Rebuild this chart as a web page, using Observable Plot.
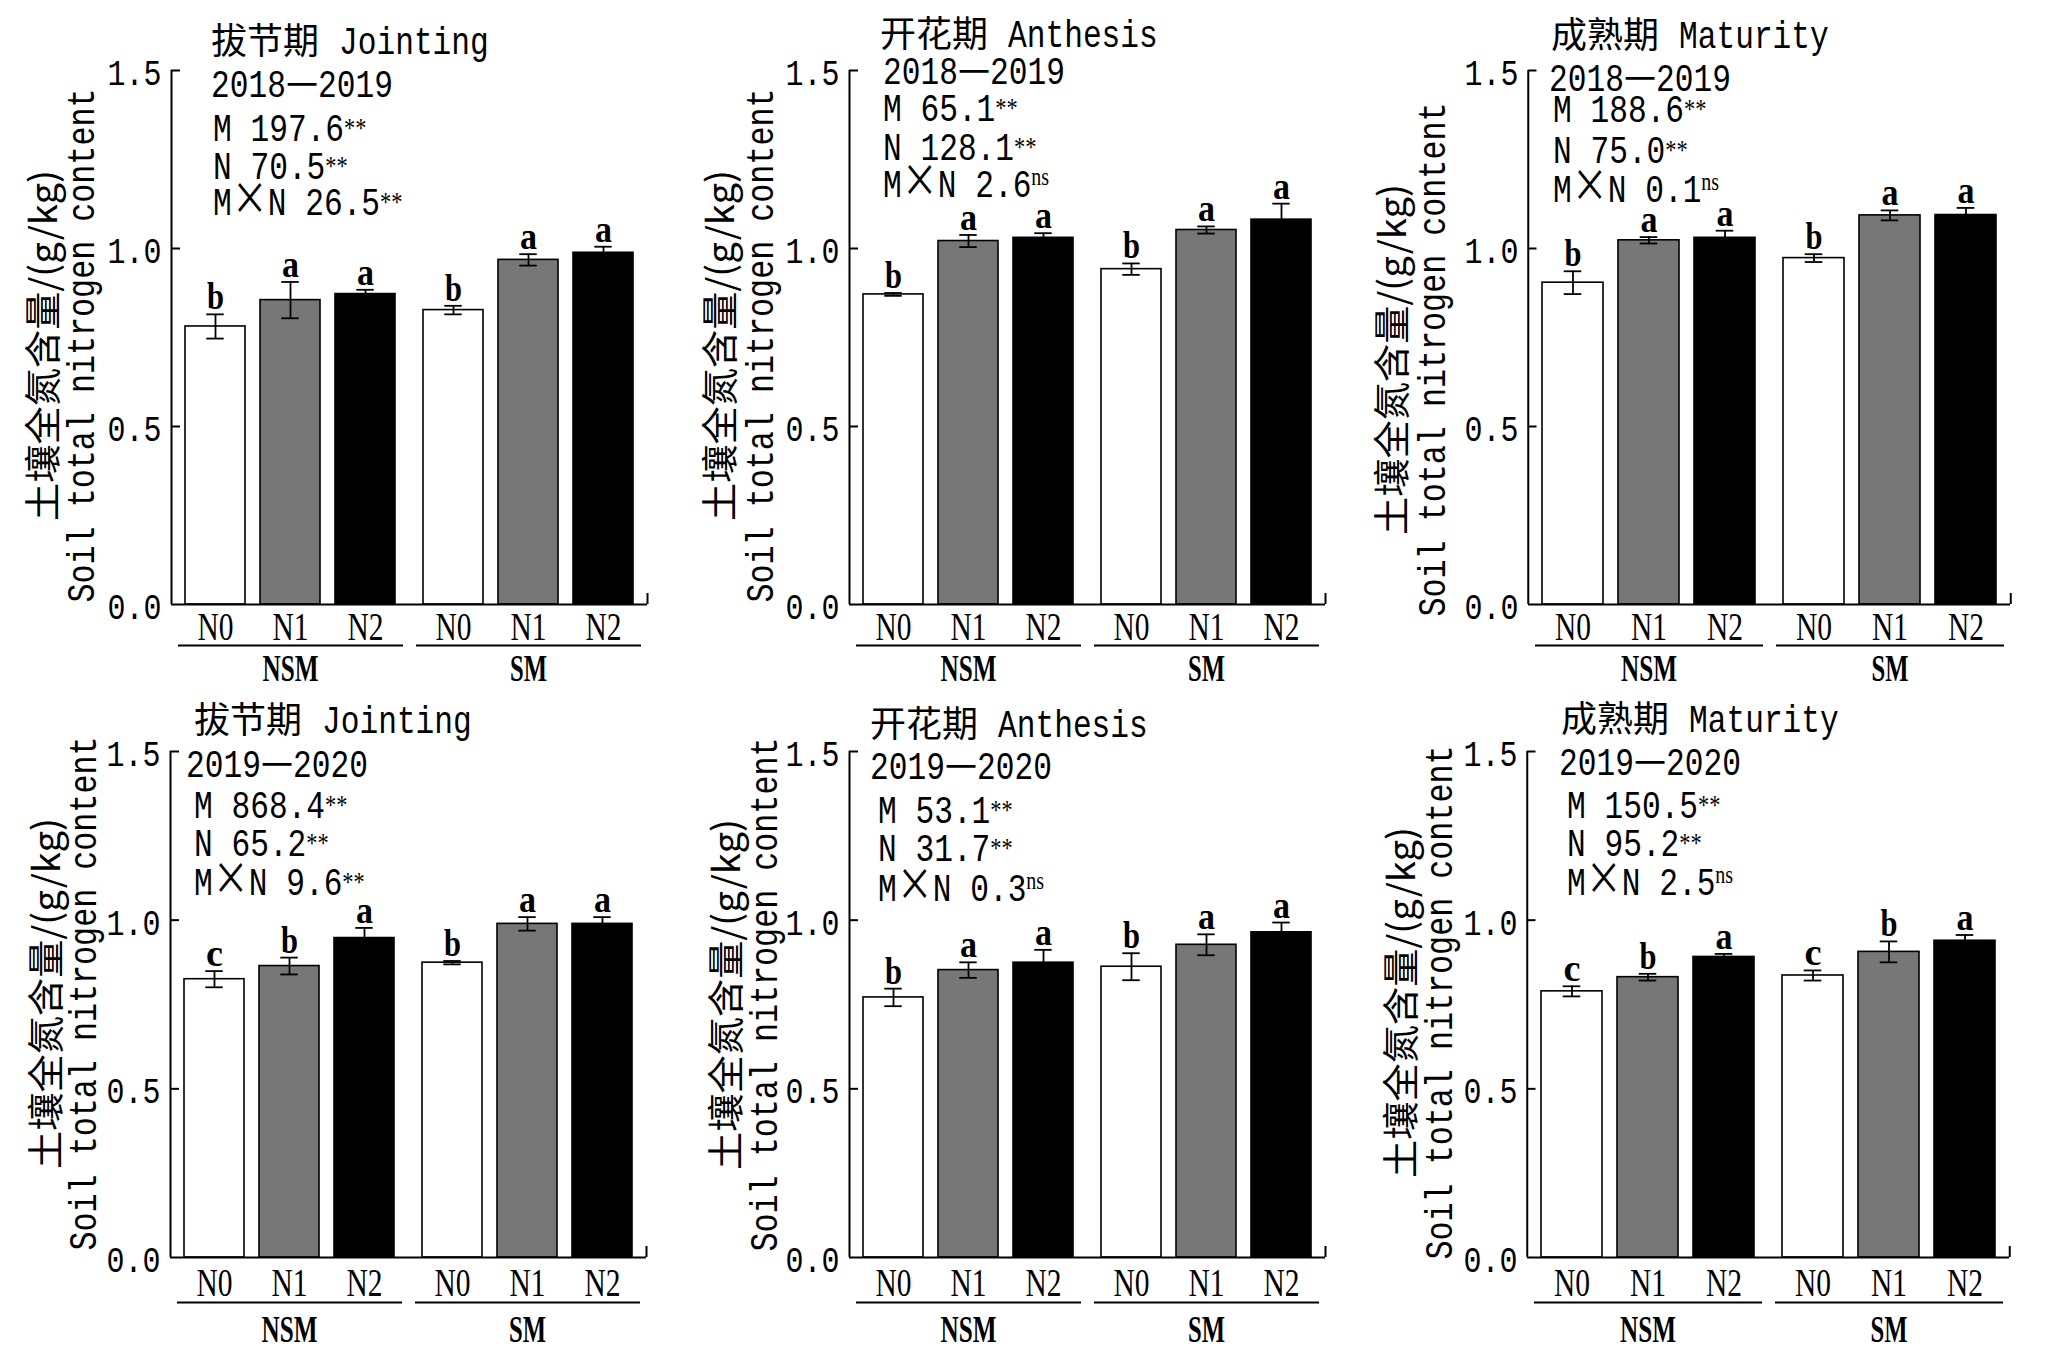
<!DOCTYPE html>
<html><head><meta charset="utf-8">
<script src="https://cdn.jsdelivr.net/npm/d3@7"></script>
<script src="https://cdn.jsdelivr.net/npm/@observablehq/plot@0.6"></script>
<style>
body{margin:0;background:#fff;}
#root{position:relative;width:2047px;height:1354px;background:#fff;overflow:hidden;}
.panel{position:absolute;}
.txt{position:absolute;white-space:pre;font-family:"Liberation Mono",monospace;font-size:39px;line-height:28px;color:#000;transform:scaleX(0.8);transform-origin:0 50%;}
.cjk{font-family:"Noto Sans CJK SC";font-size:45px;line-height:0;}
.sup{font-family:"Liberation Serif";font-size:28px;position:relative;line-height:0;}
.ttl{position:absolute;white-space:pre;font-family:"Liberation Mono",monospace;font-size:39px;line-height:28px;color:#000;}
.tcjk{font-family:"Noto Sans CJK SC";font-size:36px;line-height:0;}
.tlat{display:inline-block;margin-left:20px;line-height:28px;transform:scaleX(0.8);transform-origin:0 50%;}
</style></head><body><div id="root"></div>
<script>
// ---------- data ----------
const groups = ["NSM", "SM"];
const nLevels = ["N0", "N1", "N2"];
const stageCN = ["拔节期", "开花期", "成熟期", "拔节期", "开花期", "成熟期"];
const stageEN = ["Jointing", "Anthesis", "Maturity", "Jointing", "Anthesis", "Maturity"];
const seasons = ["2018—2019", "2018—2019", "2018—2019", "2019—2020", "2019—2020", "2019—2020"];
const fM = ["197.6", "65.1", "188.6", "868.4", "53.1", "150.5"];
const sigM = ["**", "**", "**", "**", "**", "**"];
const fN = ["70.5", "128.1", "75.0", "65.2", "31.7", "95.2"];
const sigN = ["**", "**", "**", "**", "**", "**"];
const fMN = ["26.5", "2.6", "0.1", "9.6", "0.3", "2.5"];
const sigMN = ["**", "ns", "ns", "**", "ns", "ns"];
const yTicks = [0, 0.5, 1.0, 1.5];
const yLabelCN = "土壤全氮含量/(g/kg)";
const yLabelEN = "Soil total nitrogen content";

// order of values: NSM N0, N1, N2, SM N0, N1, N2
const jointing1819 = [0.781, 0.855, 0.872, 0.827, 0.968, 0.988];
const jointing1819Err = [0.034, 0.051, 0.012, 0.012, 0.016, 0.017];
const jointing1819Sig = ["b", "a", "a", "b", "a", "a"];
const anthesis1819 = [0.871, 1.021, 1.030, 0.942, 1.052, 1.081];
const anthesis1819Err = [0.004, 0.017, 0.013, 0.016, 0.010, 0.045];
const anthesis1819Sig = ["b", "a", "a", "b", "a", "a"];
const maturity1819 = [0.904, 1.023, 1.030, 0.973, 1.093, 1.094];
const maturity1819Err = [0.032, 0.009, 0.020, 0.011, 0.014, 0.020];
const maturity1819Sig = ["b", "a", "a", "b", "a", "a"];
const jointing1920 = [0.825, 0.864, 0.947, 0.874, 0.989, 0.989];
const jointing1920Err = [0.024, 0.025, 0.030, 0.005, 0.020, 0.020];
const jointing1920Sig = ["c", "b", "a", "b", "a", "a"];
const anthesis1920 = [0.771, 0.852, 0.874, 0.862, 0.927, 0.964];
const anthesis1920Err = [0.026, 0.023, 0.038, 0.040, 0.031, 0.029];
const anthesis1920Sig = ["b", "a", "a", "b", "a", "a"];
const maturity1920 = [0.789, 0.831, 0.891, 0.836, 0.906, 0.939];
const maturity1920Err = [0.015, 0.010, 0.009, 0.015, 0.031, 0.017];
const maturity1920Sig = ["c", "b", "a", "c", "b", "a"];

const panelMeans = [jointing1819, anthesis1819, maturity1819, jointing1920, anthesis1920, maturity1920];
const panelErrs = [jointing1819Err, anthesis1819Err, maturity1819Err, jointing1920Err, anthesis1920Err, maturity1920Err];
const panelSigs = [jointing1819Sig, anthesis1819Sig, maturity1819Sig, jointing1920Sig, anthesis1920Sig, maturity1920Sig];

// ---------- layout (pixels) ----------
const axX = [171, 849, 1527, 170, 849, 1526];
const plotW = [476, 476, 483, 476, 476, 483];
const yTop = [70, 70, 70, 751, 751, 751];
const plotH = [534, 534, 534, 506, 506, 506];
const marginB = [80, 80, 80, 97, 97, 97];
const xLabPad = [7, 7, 7, 10, 10, 10];
const underDy = [41, 41, 41, 45, 45, 45];
const grpDy = [64, 64, 64, 72, 72, 72];
const cnDx = [-126, -127, -134, -122, -121, -124];
const enDx = [-90, -89, -96, -87, -85, -88];
const yLabDy = [8, 8, 22, -11, -10, -2];
const titlePos = [[211, 41], [880, 34], [1551, 35], [194, 720], [870, 724], [1561, 719]];
const yearsPos = [[211, 84.5], [883, 71], [1549, 78], [186, 764], [870, 766.5], [1559, 762.5]];
const statX = [213, 883, 1553, 194, 878, 1567];
const statY = [[128, 166, 202], [108, 147, 184], [109, 150, 189], [805, 843, 882], [810, 848.5, 888.5], [805, 843, 882]];

const mL = 170, mR = 15, mT = 70;
const root = document.getElementById("root");
const fmtTick = d => d.toFixed(1);

function addLine(cls, left, cy, html) {
  const d = document.createElement("div");
  d.className = cls;
  d.style.left = left + "px";
  d.style.top = (cy - 11.5) + "px";
  d.innerHTML = html;
  root.appendChild(d);
}
const sup = s => `<span class="sup" style="top:${s === "ns" ? -12 : -4}px;font-size:${s === "ns" ? 25 : 28}px">${s}</span>`;

for (let p = 0; p < 6; p++) {
  const W = plotW[p] / 2, H = plotH[p];
  const rows = panelMeans[p].map((v, i) => ({
    M: groups[Math.floor(i / 3)], N: nLevels[i % 3], v, e: panelErrs[p][i], s: panelSigs[p][i]
  }));
  const bw = W / (3 - 0.2 + 2 * 0.172) * 0.8;
  const capInset = (bw - 18) / 2;

  const chart = Plot.plot({
    width: mL + plotW[p] + mR,
    height: mT + H + marginB[p],
    marginLeft: mL, marginRight: mR, marginTop: mT, marginBottom: marginB[p],
    style: {background: "transparent", overflow: "visible"},
    fx: {domain: groups, padding: 0, axis: null},
    x: {domain: nLevels, paddingInner: 0.2, paddingOuter: 0.172, label: null},
    y: {domain: [0, 1.5], label: null},
    color: {domain: nLevels, range: ["#ffffff", "#777777", "#000000"]},
    marks: [
      Plot.barY(rows, {fx: "M", x: "N", y: "v", fill: "N", stroke: "#000", strokeWidth: 1.6}),
      Plot.ruleX(rows, {fx: "M", x: "N", y1: d => d.v - d.e, y2: d => d.v + d.e, stroke: "#000", strokeWidth: 1.8}),
      Plot.tickY(rows, {fx: "M", x: "N", y: d => d.v + d.e, insetLeft: capInset, insetRight: capInset, stroke: "#000", strokeWidth: 1.8}),
      Plot.tickY(rows, {fx: "M", x: "N", y: d => d.v - d.e, insetLeft: capInset, insetRight: capInset, stroke: "#000", strokeWidth: 1.8}),
      Plot.text(rows, {fx: "M", x: "N", y: d => d.v + d.e, text: "s", dy: -5, lineAnchor: "bottom",
        fontSize: 38, fontWeight: "bold", fontFamily: "Liberation Serif", fill: "#000"}),
      // axis frame
      Plot.ruleY([0], {stroke: "#000", strokeWidth: 2}),
      Plot.ruleX([0], {x: null, fx: () => "NSM", dx: -W / 2, stroke: "#000", strokeWidth: 2}),
      Plot.tickY(yTicks.filter(t => t > 0), {y: d => d, fx: () => "NSM", insetRight: W - 9, stroke: "#000", strokeWidth: 2}),
      Plot.ruleX([0], {x: null, fx: () => "SM", dx: W / 2, insetTop: H - 11, stroke: "#000", strokeWidth: 2}),
      Plot.axisY({ticks: yTicks, tickSize: 0, tickPadding: 10, tickFormat: fmtTick,
        fontSize: 36, fontFamily: "Liberation Mono", dy: 3, label: null}),
      Plot.axisX({tickSize: 0, tickPadding: xLabPad[p], fontSize: 40, fontFamily: "Liberation Serif", label: null}),
      // group underline and labels
      Plot.ruleY([0], {dy: underDy[p], insetLeft: 7, insetRight: 6, stroke: "#000", strokeWidth: 2}),
      Plot.text(groups, {fx: d => d, text: d => d, frameAnchor: "bottom", dy: grpDy[p], lineAnchor: "middle",
        fontSize: 38, fontWeight: "bold", fontFamily: "Liberation Serif", fill: "#000"}),
      // y label (two lines)
      Plot.text([yLabelCN], {fx: () => "NSM", text: d => d, frameAnchor: "left", rotate: -90,
        dx: cnDx[p], dy: yLabDy[p], textAnchor: "middle", lineAnchor: "middle",
        fontSize: 37, fontFamily: "Noto Sans CJK SC", fill: "#000"}),
      Plot.text([yLabelEN], {fx: () => "NSM", text: d => d, frameAnchor: "left", rotate: -90,
        dx: enDx[p], dy: yLabDy[p], textAnchor: "middle", lineAnchor: "middle",
        fontSize: 38, fontFamily: "Liberation Mono", fill: "#000"})
    ]
  });
  const wrap = document.createElement("div");
  wrap.className = "panel";
  wrap.style.left = (axX[p] - mL) + "px";
  wrap.style.top = (yTop[p] - mT) + "px";
  wrap.appendChild(chart);
  root.appendChild(wrap);

  // condense glyphs horizontally to match the narrow typeface of the original
  const tickStrings = yTicks.map(fmtTick);
  d3.select(chart).selectAll("text").each(function () {
    const t = this.textContent;
    let L = null;
    if (t === "NSM") L = 56;
    else if (t === "SM") L = 37;
    else if (nLevels.includes(t)) L = 36;
    else if (t === "a" || t === "b" || t === "c") L = 17;
    else if (tickStrings.includes(t)) L = 54;
    else if (t === yLabelEN) L = 514;
    else if (t === yLabelCN) L = 351;
    if (L) d3.select(this).attr("textLength", L).attr("lengthAdjust", "spacingAndGlyphs");
  });

  // title and ANOVA annotations
  addLine("ttl", titlePos[p][0], titlePos[p][1], `<span class="tcjk">${stageCN[p]}</span><span class="tlat">${stageEN[p]}</span>`);
  const [y0, y1] = seasons[p].split("—");
  addLine("txt", yearsPos[p][0], yearsPos[p][1], `${y0}<span class="cjk">—</span>${y1}`);
  addLine("txt", statX[p], statY[p][0], `M ${fM[p]}${sup(sigM[p])}`);
  addLine("txt", statX[p], statY[p][1], `N ${fN[p]}${sup(sigN[p])}`);
  addLine("txt", statX[p], statY[p][2], `M<span class="cjk">×</span>N ${fMN[p]}${sup(sigMN[p])}`);
}
</script></body></html>
